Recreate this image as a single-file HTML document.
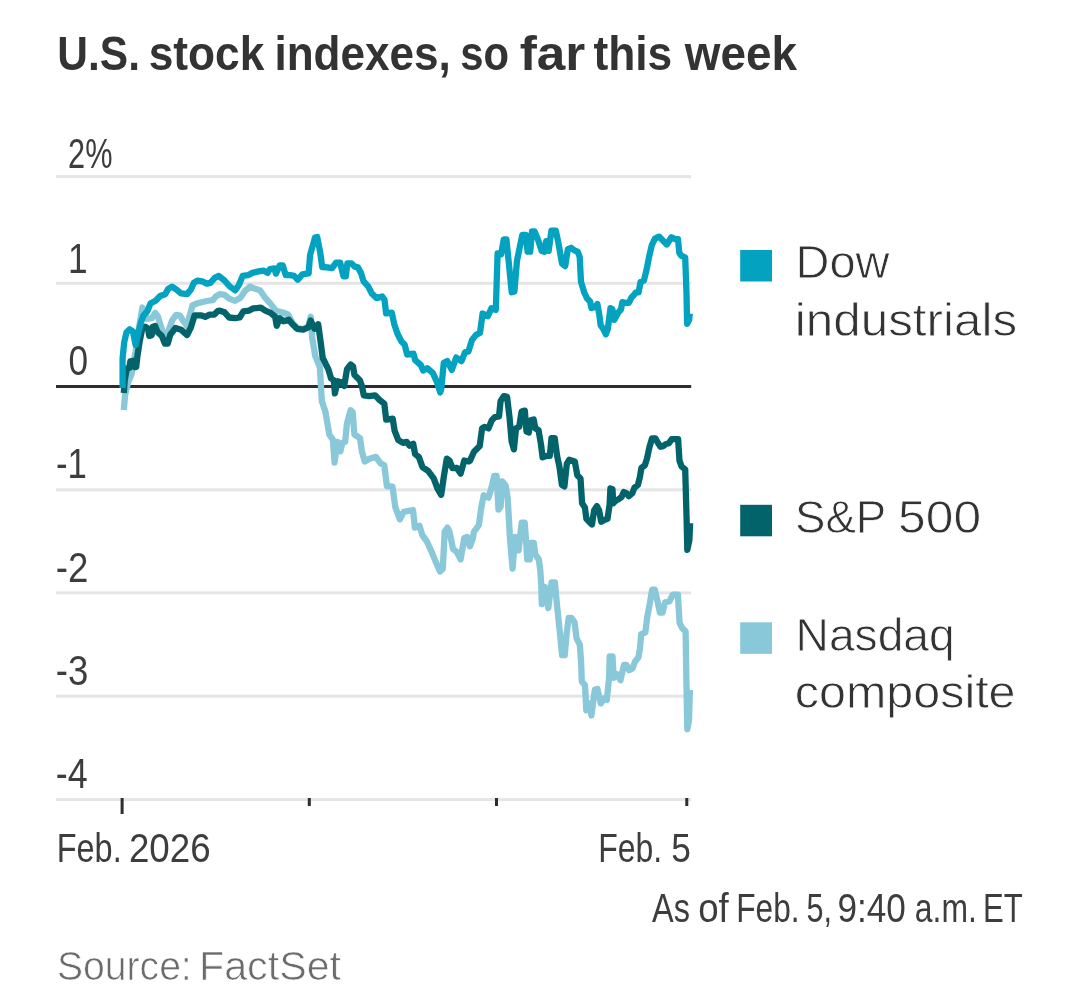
<!DOCTYPE html>
<html lang="en">
<head>
<meta charset="utf-8">
<title>U.S. stock indexes, so far this week</title>
<style>
html,body{margin:0;padding:0;background:#fff;}
body{width:1079px;height:992px;overflow:hidden;font-family:"Liberation Sans",sans-serif;}
svg{display:block;}
text{font-family:"Liberation Sans",sans-serif;}
.title{font-weight:700;font-size:48px;fill:#333;}
.ax{font-size:42.5px;fill:#3d3d3d;}
.xl{font-size:41px;fill:#3d3d3d;}
.lg{font-size:47px;fill:#333;stroke:#fff;stroke-width:0.8px;}
.src{font-size:41px;fill:#6b6b6b;stroke:#fff;stroke-width:0.7px;}
</style>
</head>
<body>
<svg width="1079" height="992" viewBox="0 0 1079 992">
<rect width="1079" height="992" fill="#fff"/>
<rect x="56" y="175.1" width="635.2" height="3" fill="#e5e5e5"/>
<rect x="56" y="281.8" width="635.2" height="3" fill="#e5e5e5"/>
<rect x="56" y="488.3" width="635.2" height="3" fill="#e5e5e5"/>
<rect x="56" y="591.4" width="635.2" height="3" fill="#e5e5e5"/>
<rect x="56" y="694.7" width="635.2" height="3" fill="#e5e5e5"/>
<rect x="56" y="798.1" width="635.2" height="3" fill="#e5e5e5"/>
<rect x="120.6" y="798" width="3" height="16" fill="#2e2e2e"/>
<rect x="307.8" y="798" width="3" height="8" fill="#2e2e2e"/>
<rect x="495.0" y="798" width="3" height="8" fill="#2e2e2e"/>
<rect x="685.3" y="798" width="3" height="8" fill="#2e2e2e"/>
<rect x="56" y="385" width="635.2" height="3" fill="#2d2d2d"/>
<g fill="none" stroke-width="6.3" stroke-linejoin="round" stroke-linecap="butt">
<polyline stroke="#88c8d8" points="123.8,410.0 125.1,394.8 128.3,381.7 131.6,373.9 135.5,352.0 139.0,328.0 142.4,307.5 146.7,318.8 151.9,318.2 155.2,312.9 157.8,316.2 160.5,325.4 163.7,334.6 165.7,341.8 169.0,329.3 172.3,320.1 176.2,314.9 180.0,315.6 182.5,319.9 187.0,326.0 192.4,305.5 197.7,303.2 206.7,301.0 212.8,300.2 215.8,296.4 220.0,294.1 224.5,294.8 229.1,298.6 235.1,300.9 240.4,297.8 244.9,291.0 250.2,286.5 254.8,288.8 260.0,290.3 264.6,297.1 270.6,303.9 275.9,310.7 282.0,312.2 288.0,314.5 292.5,323.0 297.1,328.0 303.1,329.0 308.4,326.5 310.7,316.7 312.2,337.9 315.3,356.1 319.9,367.3 321.8,400.9 325.5,412.1 329.3,434.5 333.0,440.1 334.5,462.5 337.6,441.9 340.4,451.3 342.3,442.9 345.1,441.9 347.0,423.3 350.7,410.2 352.6,412.1 354.4,434.5 360.0,438.2 361.9,451.3 364.7,461.5 369.4,458.7 375.9,456.9 380.6,463.4 384.3,465.3 386.9,486.0 392.5,486.6 395.3,507.2 399.9,519.3 403.7,511.8 413.0,510.0 414.9,527.7 419.5,525.8 422.3,535.1 427.0,541.7 431.6,551.9 436.3,563.1 440.0,571.5 442.8,568.7 444.7,531.4 447.5,527.7 449.4,531.4 453.1,549.1 456.8,551.9 460.6,559.4 464.3,537.9 467.1,537.0 469.9,546.3 472.7,538.9 474.0,531.6 478.9,525.2 481.3,507.4 483.7,495.3 488.5,497.7 491.8,486.5 494.2,476.0 496.6,476.0 498.5,509.5 500.6,506.7 502.1,481.3 505.6,485.5 507.7,498.2 510.1,540.3 512.6,568.5 515.1,536.8 518.6,550.4 521.7,522.7 524.7,522.7 526.4,545.3 527.2,559.4 529.7,559.4 531.2,542.8 533.8,542.8 535.3,554.4 538.8,559.4 540.3,570.5 541.3,585.6 541.8,604.1 545.1,587.0 548.3,608.0 551.6,582.5 554.9,582.5 556.9,604.1 559.5,629.0 562.1,655.2 564.7,655.2 566.7,632.9 568.7,617.8 571.3,617.8 574.6,622.4 576.5,638.2 579.8,644.7 581.1,661.7 581.8,681.4 585.0,685.3 586.3,710.3 589.7,703.5 591.4,715.5 594.8,689.8 597.4,688.9 600.8,703.5 604.3,698.3 606.8,700.0 609.1,677.8 609.7,656.4 612.5,656.4 613.7,677.8 617.1,674.3 620.5,680.3 624.0,664.9 626.5,664.9 629.1,670.1 632.5,668.4 635.1,661.5 638.5,657.2 640.2,646.9 641.1,634.1 645.4,632.4 647.1,617.8 649.7,604.1 652.2,589.6 654.8,589.6 657.4,600.7 659.9,612.7 662.5,612.7 665.1,602.4 669.3,601.5 672.8,594.7 677.9,594.7 679.6,623.0 682.2,628.1 685.6,631.5 686.5,686.3 687.3,729.2 689.0,720.6 689.9,689.8"/>
<polyline stroke="#02636b" points="123.8,393.0 124.7,380.4 126.8,368.6 129.3,368.0 130.3,361.4 133.3,360.8 134.4,367.0 136.2,367.0 137.5,355.5 139.5,342.4 142.1,329.3 145.1,326.7 148.0,328.7 149.3,335.9 151.7,335.2 152.7,326.7 155.2,326.0 157.4,331.9 161.8,335.9 165.0,343.7 167.7,343.7 170.3,334.6 175.5,328.0 181.0,329.7 187.1,335.0 190.9,327.4 194.6,315.3 200.7,315.3 205.2,316.8 209.7,314.6 214.3,314.6 218.1,310.8 220.0,310.7 224.5,312.2 229.1,317.5 235.1,318.2 239.6,317.5 243.4,311.4 248.7,310.7 253.2,308.4 260.8,307.7 265.3,310.7 270.6,312.9 275.2,316.7 276.7,325.8 279.7,318.2 283.5,321.3 288.8,319.7 292.5,324.3 297.1,328.8 303.1,329.6 308.4,327.3 310.7,320.5 314.5,328.8 318.2,324.3 320.5,340.9 322.7,358.0 328.3,369.2 331.1,378.5 333.9,380.4 334.9,393.4 337.6,381.3 341.4,382.2 344.2,386.0 347.0,369.2 350.7,364.5 353.1,366.4 354.4,374.8 360.0,380.4 361.9,386.0 363.8,395.3 369.4,396.2 375.0,395.3 379.6,400.0 384.3,403.7 386.2,419.6 392.7,418.6 394.6,430.7 398.3,440.1 403.0,442.9 406.7,441.9 409.5,445.7 413.2,443.8 415.1,454.1 418.8,456.9 422.5,467.1 428.1,470.9 433.7,478.3 437.5,488.6 441.2,494.8 444.0,475.5 446.8,458.7 449.6,460.6 452.4,468.1 456.8,468.0 460.6,473.6 464.3,460.5 469.0,461.5 470.0,460.6 474.0,451.8 479.7,446.1 482.1,428.4 484.5,426.8 488.5,428.4 491.8,420.3 495.0,417.1 499.0,416.3 500.6,401.0 503.9,396.1 507.1,396.9 509.5,417.1 511.6,441.3 513.9,449.4 516.0,428.4 519.2,426.8 521.6,411.5 524.8,410.6 526.5,431.6 528.9,432.4 530.5,420.3 533.7,419.5 535.3,428.4 538.5,430.0 541.0,444.5 542.6,457.4 546.6,455.8 549.8,455.8 551.5,438.1 554.7,438.1 557.1,455.8 559.5,467.1 561.9,484.8 564.4,486.5 566.8,463.9 569.2,459.8 574.8,461.5 577.3,475.2 580.5,478.4 582.1,503.3 584.9,507.5 586.4,518.8 589.2,521.7 592.0,524.5 594.1,510.4 596.9,506.1 599.1,510.4 601.2,521.7 604.0,520.2 607.5,518.8 609.6,504.7 610.4,488.5 612.5,489.2 613.2,503.3 616.0,500.5 618.8,499.1 621.6,496.9 623.8,492.0 626.6,493.4 628.7,496.2 632.2,493.4 634.4,487.8 637.9,484.9 640.0,476.5 641.4,468.0 644.9,465.2 647.1,458.1 649.2,448.2 652.0,438.4 655.5,438.4 657.7,442.6 660.5,446.8 663.3,446.1 666.1,444.0 668.9,443.3 671.8,439.1 678.1,439.1 679.5,460.9 681.7,466.6 685.2,469.4 686.6,518.8 687.3,549.9 689.4,540.0 690.1,523.1"/>
<polyline stroke="#03a2c0" points="122.6,388.0 122.6,358.2 124.2,342.4 126.4,332.6 129.7,329.3 132.9,331.3 135.6,345.0 138.2,333.3 140.8,322.8 143.4,315.6 147.4,311.2 150.4,303.6 155.6,300.8 160.2,296.0 165.2,294.2 168.2,288.9 172.0,286.6 176.5,289.6 181.0,293.4 187.1,294.2 190.9,289.6 193.9,282.8 197.7,280.6 202.2,281.3 206.7,283.6 210.5,282.8 215.0,277.6 218.8,276.0 224.5,280.5 229.8,286.5 235.1,290.3 238.9,285.0 242.7,275.9 248.0,275.2 252.5,272.9 258.5,271.4 263.8,270.6 267.6,272.9 269.9,269.1 274.4,268.4 275.9,273.6 279.7,265.3 282.7,265.3 285.7,275.2 290.3,275.2 294.1,275.9 297.8,279.7 302.4,274.4 308.6,273.4 310.1,255.0 315.0,237.6 317.2,237.0 320.3,252.8 322.2,267.0 327.3,267.4 332.1,268.2 336.1,262.6 340.2,262.6 343.4,276.3 345.8,276.3 347.4,263.4 351.5,263.4 354.7,266.6 357.9,267.4 361.1,273.1 363.5,281.1 368.4,286.8 371.6,293.2 376.5,298.1 382.1,296.5 384.5,299.7 386.1,313.4 391.8,312.6 394.2,323.9 397.4,333.5 401.5,341.6 404.7,344.8 407.1,354.5 413.5,353.7 415.2,360.2 420.8,365.0 423.2,370.6 427.3,368.2 432.9,373.1 436.9,381.9 440.2,392.4 441.2,389.3 443.8,362.8 447.3,361.1 451.8,369.9 456.2,357.5 461.5,361.1 465.0,352.3 468.5,351.4 472.0,339.9 476.4,334.6 480.0,332.9 482.6,313.5 487.9,316.1 491.4,308.2 495.8,309.9 497.6,253.5 501.1,254.4 503.8,239.4 506.4,239.4 509.1,265.8 511.7,292.3 514.4,291.4 517.0,260.6 522.3,235.0 525.8,235.0 527.6,251.7 530.2,251.7 532.0,231.5 534.6,231.5 538.2,240.3 541.7,250.9 544.3,251.7 546.1,241.2 548.7,250.9 551.4,230.6 555.8,230.6 558.4,242.9 562.0,263.5 565.2,266.1 567.9,249.1 571.1,247.8 574.4,250.4 577.7,251.7 579.7,256.9 581.0,281.9 584.2,292.3 586.9,298.2 590.1,301.5 591.5,308.1 595.4,306.8 597.4,304.1 599.3,314.6 600.6,325.1 603.3,329.0 605.9,334.3 607.8,329.0 610.5,308.1 612.4,309.4 614.4,319.9 617.7,313.3 621.0,309.4 622.3,302.2 625.5,302.8 628.8,302.8 631.4,297.6 633.4,295.6 636.0,292.3 638.6,292.3 640.6,281.9 643.9,280.5 646.5,270.1 649.1,256.9 651.8,245.1 655.0,238.6 659.0,236.6 663.6,241.2 666.8,244.5 671.4,237.3 675.3,239.2 678.0,239.2 679.3,253.0 681.2,255.6 685.2,257.6 686.5,293.6 687.1,323.8 689.1,319.9 689.8,313.3"/>
</g>
<text class="title"><tspan x="57.33" y="70" textLength="82.64" lengthAdjust="spacingAndGlyphs">U.S.</tspan> <tspan x="148.68" y="70" textLength="115.64" lengthAdjust="spacingAndGlyphs">stock</tspan> <tspan x="274.45" y="70" textLength="176.30" lengthAdjust="spacingAndGlyphs">indexes,</tspan> <tspan x="460.33" y="70" textLength="48.72" lengthAdjust="spacingAndGlyphs">so</tspan> <tspan x="519.70" y="70" textLength="65.53" lengthAdjust="spacingAndGlyphs">far</tspan> <tspan x="593.40" y="70" textLength="78.87" lengthAdjust="spacingAndGlyphs">this</tspan> <tspan x="684.76" y="70" textLength="112.15" lengthAdjust="spacingAndGlyphs">week</tspan></text>
<text class="ax"><tspan x="68.05" y="168.4" textLength="44.42" lengthAdjust="spacingAndGlyphs">2%</tspan></text>
<text class="ax"><tspan x="68.07" y="272.5" textLength="19.58" lengthAdjust="spacingAndGlyphs">1</tspan></text>
<text class="ax"><tspan x="68.57" y="374.7" textLength="19.58" lengthAdjust="spacingAndGlyphs">0</tspan></text>
<text class="ax"><tspan x="55.88" y="478.2" textLength="30.96" lengthAdjust="spacingAndGlyphs">-1</tspan></text>
<text class="ax"><tspan x="55.84" y="581.5" textLength="32.57" lengthAdjust="spacingAndGlyphs">-2</tspan></text>
<text class="ax"><tspan x="55.84" y="685" textLength="32.57" lengthAdjust="spacingAndGlyphs">-3</tspan></text>
<text class="ax"><tspan x="55.86" y="788" textLength="31.88" lengthAdjust="spacingAndGlyphs">-4</tspan></text>
<text class="xl"><tspan x="56.72" y="862.2" textLength="64.96" lengthAdjust="spacingAndGlyphs">Feb.</tspan> <tspan x="128.91" y="862.2" textLength="81.81" lengthAdjust="spacingAndGlyphs">2026</tspan></text>
<text class="xl"><tspan x="598.16" y="862.2" textLength="63.98" lengthAdjust="spacingAndGlyphs">Feb.</tspan> <tspan x="671.14" y="862.2" textLength="19.65" lengthAdjust="spacingAndGlyphs">5</tspan></text>
<text class="xl"><tspan x="652.00" y="921.8" textLength="37.90" lengthAdjust="spacingAndGlyphs">As</tspan> <tspan x="698.21" y="921.8" textLength="30.55" lengthAdjust="spacingAndGlyphs">of</tspan> <tspan x="736.28" y="921.8" textLength="63.33" lengthAdjust="spacingAndGlyphs">Feb.</tspan> <tspan x="806.46" y="921.8" textLength="25.47" lengthAdjust="spacingAndGlyphs">5,</tspan> <tspan x="837.44" y="921.8" textLength="68.34" lengthAdjust="spacingAndGlyphs">9:40</tspan> <tspan x="914.82" y="921.8" textLength="62.02" lengthAdjust="spacingAndGlyphs">a.m.</tspan> <tspan x="983.02" y="921.8" textLength="39.81" lengthAdjust="spacingAndGlyphs">ET</tspan></text>
<text class="lg"><tspan x="795.50" y="277.8" textLength="93.94" lengthAdjust="spacingAndGlyphs">Dow</tspan> <tspan x="794.85" y="335.8" textLength="222.23" lengthAdjust="spacingAndGlyphs">industrials</tspan></text>
<text class="lg"><tspan x="794.98" y="532.6" textLength="90.48" lengthAdjust="spacingAndGlyphs">S&amp;P</tspan> <tspan x="898.14" y="532.6" textLength="82.96" lengthAdjust="spacingAndGlyphs">500</tspan></text>
<text class="lg"><tspan x="795.55" y="650.6" textLength="159.15" lengthAdjust="spacingAndGlyphs">Nasdaq</tspan> <tspan x="794.84" y="708.3" textLength="220.73" lengthAdjust="spacingAndGlyphs">composite</tspan></text>
<text class="src"><tspan x="57.05" y="979.7" textLength="134.69" lengthAdjust="spacingAndGlyphs">Source:</tspan> <tspan x="198.98" y="979.7" textLength="142.11" lengthAdjust="spacingAndGlyphs">FactSet</tspan></text>
<rect x="740.2" y="250" width="31.8" height="31.5" fill="#03a2c0"/>
<rect x="740.2" y="504.8" width="31.8" height="31.5" fill="#02636b"/>
<rect x="740.2" y="622.3" width="31.8" height="31.5" fill="#88c8d8"/>
</svg>
</body>
</html>
